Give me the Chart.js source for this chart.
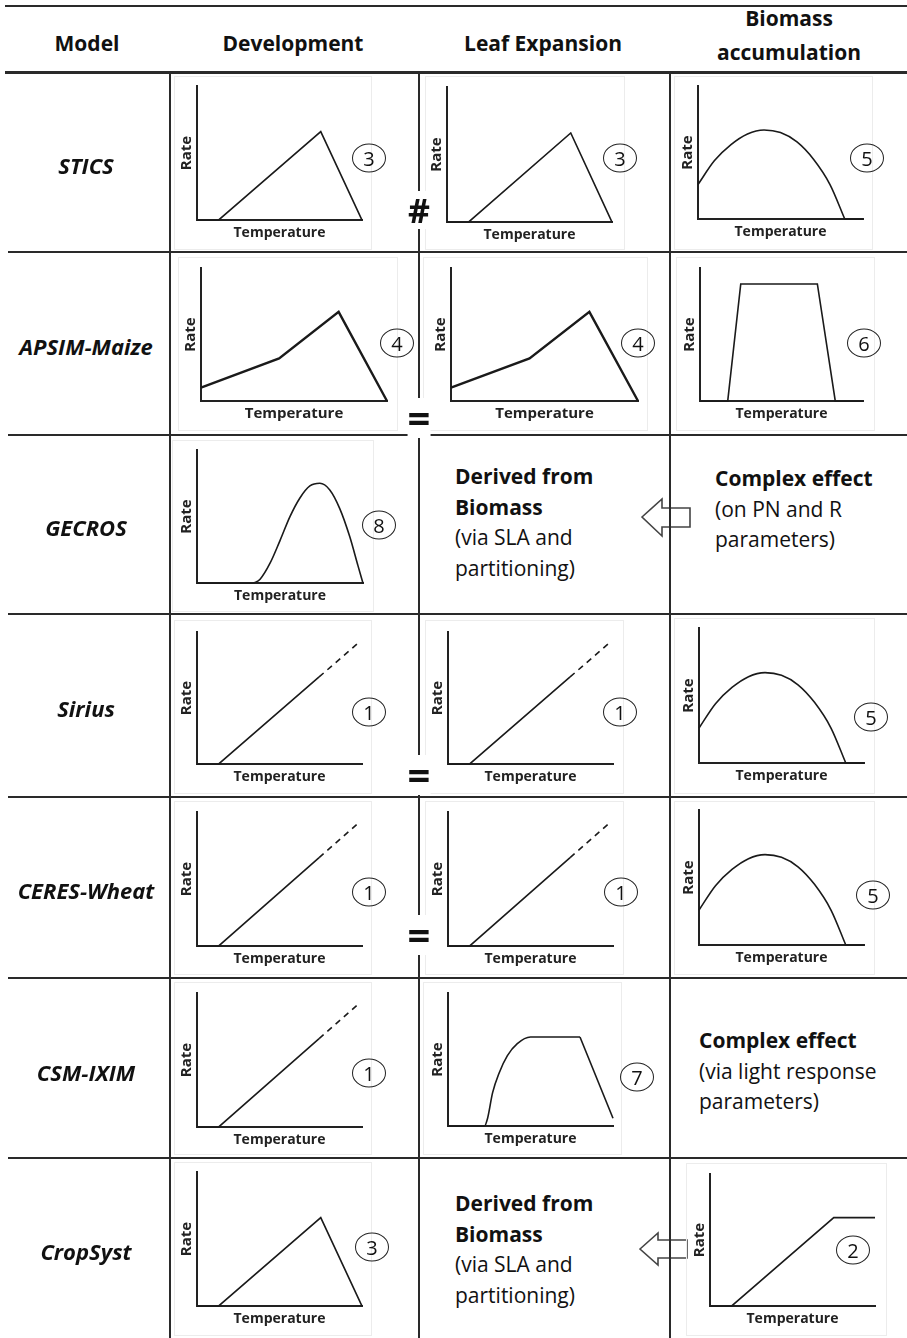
<!DOCTYPE html>
<html>
<head>
<meta charset="utf-8">
<script src="https://cdn.jsdelivr.net/npm/chart.js@4.4.0/dist/chart.umd.min.js"></script>
<style>
body{margin:0;background:#fff;}
#page{position:relative;width:907px;height:1338px;overflow:hidden;font-family:'Open Sans',Lato,sans-serif;color:#111;background:#fff;}
.hl{position:absolute;background:#2a2a2a;}
.vl{position:absolute;width:2px;background:#2a2a2a;}
.t{position:absolute;white-space:nowrap;transform:translate(-50%,-50%);}
.hdr{font-weight:bold;font-size:21px;}
.model{font-weight:bold;font-style:italic;font-size:22px;}
.frame{position:absolute;border:1px solid #ececec;box-sizing:border-box;}
.circ{position:absolute;border:1.5px solid #222;border-radius:50%;width:34px;height:29px;box-sizing:border-box;display:flex;align-items:center;justify-content:center;font-size:20px;transform:translate(-50%,-50%);background:transparent;}
.note{position:absolute;font-size:21px;line-height:30.5px;white-space:nowrap;}
.note b{font-weight:bold;}
.sym{position:absolute;font-weight:bold;transform:translate(-50%,-50%);background:#fff;line-height:1;}
canvas{position:absolute;}
svg{position:absolute;left:0;top:0;}
</style>
</head>
<body>
<div id="page">
<svg width="907" height="1338">
  <polygon points="642,517 662,499 662,508 690,508 690,527 662,527 662,536" fill="#fff" stroke="#444" stroke-width="1.6"/>
  <polygon points="640,1249 658,1233 658,1240 687,1240 687,1258 658,1258 658,1265" fill="#fff" stroke="#444" stroke-width="1.6"/>
</svg>
</div>
<script>
// table text
const headers = ['Model', 'Development', 'Leaf Expansion', 'Biomass', 'accumulation'];
const models = ['STICS', 'APSIM-Maize', 'GECROS', 'Sirius', 'CERES-Wheat', 'CSM-IXIM', 'CropSyst'];

// response curves: temperature (% of axis) vs rate (% of axis)
const triTemp = [0, 13, 75, 100];
const triRate = [0, 0, 66, 0];
const kinkTemp = [0, 42, 74, 100];
const kinkRate = [10, 32, 67, 0];
const parabTemp = [0, 10, 20, 30, 40, 50, 60, 70, 80, 89];
const parabRate = [26, 44, 56, 64, 67, 65, 58, 45, 26, 0];
const parabTailTemp = [89, 100];
const parabTailRate = [0, 0];
const trapTemp = [0, 17, 25, 72, 83, 100];
const trapRate = [0, 0, 88, 88, 0, 0];
const bellBaseTemp = [0, 34];
const bellBaseRate = [0, 0];
const bellTemp = [34, 38, 44, 50, 56, 62, 68, 74, 80, 86, 92, 97, 100];
const bellRate = [0, 3, 15, 32, 50, 64, 73, 75, 70, 56, 35, 13, 0];
const linTemp = [0, 13, 74];
const linRate = [0, 0, 66];
const linDashTemp = [74, 98];
const linDashRate = [66, 92];
const plateauTemp = [0, 22, 24, 27, 31, 36, 42, 50, 80];
const plateauRate = [0, 0, 6, 25, 40, 53, 62, 67, 67];
const plateauDropTemp = [80, 100];
const plateauDropRate = [67, 6];
const rampTemp = [0, 13, 75, 100];
const rampRate = [0, 0, 67, 67];

const shapes = {
  tri: [{temp: triTemp, rate: triRate}],
  kink: [{temp: kinkTemp, rate: kinkRate}],
  parab: [{temp: parabTemp, rate: parabRate, smooth: true}, {temp: parabTailTemp, rate: parabTailRate}],
  trap: [{temp: trapTemp, rate: trapRate}],
  bell: [{temp: bellBaseTemp, rate: bellBaseRate}, {temp: bellTemp, rate: bellRate, smooth: true}],
  lin: [{temp: linTemp, rate: linRate}, {temp: linDashTemp, rate: linDashRate, dash: true}],
  plateau: [{temp: plateauTemp, rate: plateauRate, smooth: true}, {temp: plateauDropTemp, rate: plateauDropRate}],
  ramp: [{temp: rampTemp, rate: rampRate}]
};

// panel layout: shape, circled number, plot box [x0, top, bottom, x1], circle centre, frame [l, t, r, b]
const panels = [
  {shape: 'tri', num: '3', box: [197, 86, 220, 362], c: [369, 158], f: [174, 76, 372, 250]},
  {shape: 'tri', num: '3', box: [447, 87, 222, 612], c: [620, 158], f: [425, 76, 625, 250]},
  {shape: 'parab', num: '5', box: [698, 86, 219, 863], c: [867, 158], f: [674, 76, 873, 250]},
  {shape: 'kink', num: '4', box: [201, 268, 401, 387], c: [397, 343], f: [178, 257, 398, 431], lw: 2.4, fs: 15},
  {shape: 'kink', num: '4', box: [451, 268, 401, 638], c: [638, 343], f: [423, 257, 648, 431], lw: 2.4, fs: 15},
  {shape: 'trap', num: '6', box: [700, 268, 401, 863], c: [864, 343], f: [676, 257, 875, 431]},
  {shape: 'bell', num: '8', box: [197, 450, 583, 363], c: [379, 525], f: [172, 440, 374, 612]},
  {shape: 'lin', num: '1', box: [197, 632, 764, 362], c: [369, 712], f: [174, 620, 372, 794]},
  {shape: 'lin', num: '1', box: [448, 632, 764, 613], c: [620, 712], f: [425, 620, 624, 794]},
  {shape: 'parab', num: '5', box: [699, 628, 763, 864], c: [871, 717], f: [674, 618, 875, 794]},
  {shape: 'lin', num: '1', box: [197, 812, 946, 362], c: [369, 892], f: [174, 801, 372, 975]},
  {shape: 'lin', num: '1', box: [448, 812, 946, 613], c: [621, 892], f: [425, 801, 624, 975]},
  {shape: 'parab', num: '5', box: [699, 810, 945, 864], c: [873, 895], f: [674, 801, 875, 975]},
  {shape: 'lin', num: '1', box: [197, 993, 1127, 362], c: [369, 1073], f: [174, 982, 372, 1155]},
  {shape: 'plateau', num: '7', box: [448, 993, 1126, 613], c: [637, 1077], f: [423, 982, 622, 1155]},
  {shape: 'tri', num: '3', box: [197, 1172, 1306, 362], c: [372, 1247], f: [174, 1162, 372, 1336]},
  {shape: 'ramp', num: '2', box: [710, 1174, 1306, 875], c: [853, 1250], f: [686, 1163, 887, 1336]}
];

const page = document.getElementById('page');
function add(cls, css, html) {
  const d = document.createElement('div');
  d.className = cls;
  Object.assign(d.style, css);
  if (html !== undefined) d.innerHTML = html;
  page.appendChild(d);
  return d;
}

// frames first (under charts)
panels.forEach(p => add('frame', {left: p.f[0]+'px', top: p.f[1]+'px', width: (p.f[2]-p.f[0])+'px', height: (p.f[3]-p.f[1])+'px'}));

function makePanel(p) {
  const pad = 4, yFs = 15, xFs = p.fs || 14;
  const yW = yFs * 1.2 + 1, xH = xFs * 1.2 + 4;
  const [x0, top, bottom, x1] = p.box;
  const left = x0 - pad - yW;
  const c = document.createElement('canvas');
  c.width = Math.round(x1 - left + pad);
  c.height = Math.round(bottom - top + pad + xH);
  c.style.left = left + 'px';
  c.style.top = (top - pad) + 'px';
  page.appendChild(c);
  const lw = p.lw || 1.6;
  new Chart(c, {
    type: 'line',
    data: {datasets: shapes[p.shape].map(s => ({
      data: s.temp.map((t, i) => ({x: t, y: s.rate[i]})),
      borderColor: '#1a1a1a', borderWidth: lw, borderDash: s.dash ? [6, 5] : [],
      pointRadius: 0, tension: 0, cubicInterpolationMode: s.smooth ? 'monotone' : 'default',
      clip: false, fill: false
    }))},
    options: {
      responsive: false, animation: false, events: [],
      layout: {padding: {left: pad, top: pad, right: pad, bottom: 0}},
      plugins: {legend: {display: false}, tooltip: {enabled: false}},
      scales: {
        x: {type: 'linear', min: 0, max: 100,
          grid: {display: false, drawTicks: false}, ticks: {display: false},
          border: {color: '#222', width: 2},
          title: {display: true, text: 'Temperature', color: '#222',
            font: {family: 'Open Sans', size: xFs, weight: 'bold'}, padding: {top: 4, bottom: 0}}},
        y: {type: 'linear', min: 0, max: 100,
          grid: {display: false, drawTicks: false}, ticks: {display: false},
          border: {color: '#222', width: 2},
          title: {display: true, text: 'Rate', color: '#222',
            font: {family: 'Open Sans', size: yFs, weight: 'bold'}, padding: {top: 0, bottom: 1}}}
      }
    }
  });
  add('circ', {left: p.c[0]+'px', top: p.c[1]+'px'}, p.num);
}
panels.forEach(makePanel);

// header text
add('t hdr', {left: '87px', top: '43px'}, headers[0]);
add('t hdr', {left: '293px', top: '43px'}, headers[1]);
add('t hdr', {left: '543px', top: '43px'}, headers[2]);
add('t hdr', {left: '789px', top: '18px'}, headers[3]);
add('t hdr', {left: '789px', top: '52px'}, headers[4]);

const modelY = [165, 346, 527, 708, 890, 1072, 1251];
models.forEach((m, i) => add('t model', {left: '86px', top: modelY[i]+'px'}, m));

// text cells
add('note', {left: '455px', top: '461px'}, '<b>Derived from</b><br><b>Biomass</b><br>(via SLA and<br>partitioning)');
add('note', {left: '715px', top: '463px'}, '<b>Complex effect</b><br>(on PN and R<br>parameters)');
add('note', {left: '699px', top: '1025px'}, '<b>Complex effect</b><br>(via light response<br>parameters)');
add('note', {left: '455px', top: '1188px'}, '<b>Derived from</b><br><b>Biomass</b><br>(via SLA and<br>partitioning)');

// table rules
add('hl', {left: '5px', top: '5px', width: '902px', height: '2px'});
add('hl', {left: '5px', top: '71px', width: '902px', height: '3px'});
[251, 434, 613, 796, 977, 1157].forEach(y => add('hl', {left: '8px', top: y+'px', width: '899px', height: '2px'}));
add('vl', {left: '169px', top: '73px', height: '1265px'});
add('vl', {left: '669px', top: '73px', height: '1265px'});
add('vl', {left: '418px', top: '73px', height: '1265px'});

// comparison symbols on the Development / Leaf Expansion rule
add('sym', {left: '419px', top: '210px', fontSize: '34px', padding: '2px 0'}, '#');
[418, 775, 935].forEach(y => add('sym', {left: '419px', top: y+'px', fontSize: '40px', padding: '0 0'}, '='));
</script>
</body>
</html>
